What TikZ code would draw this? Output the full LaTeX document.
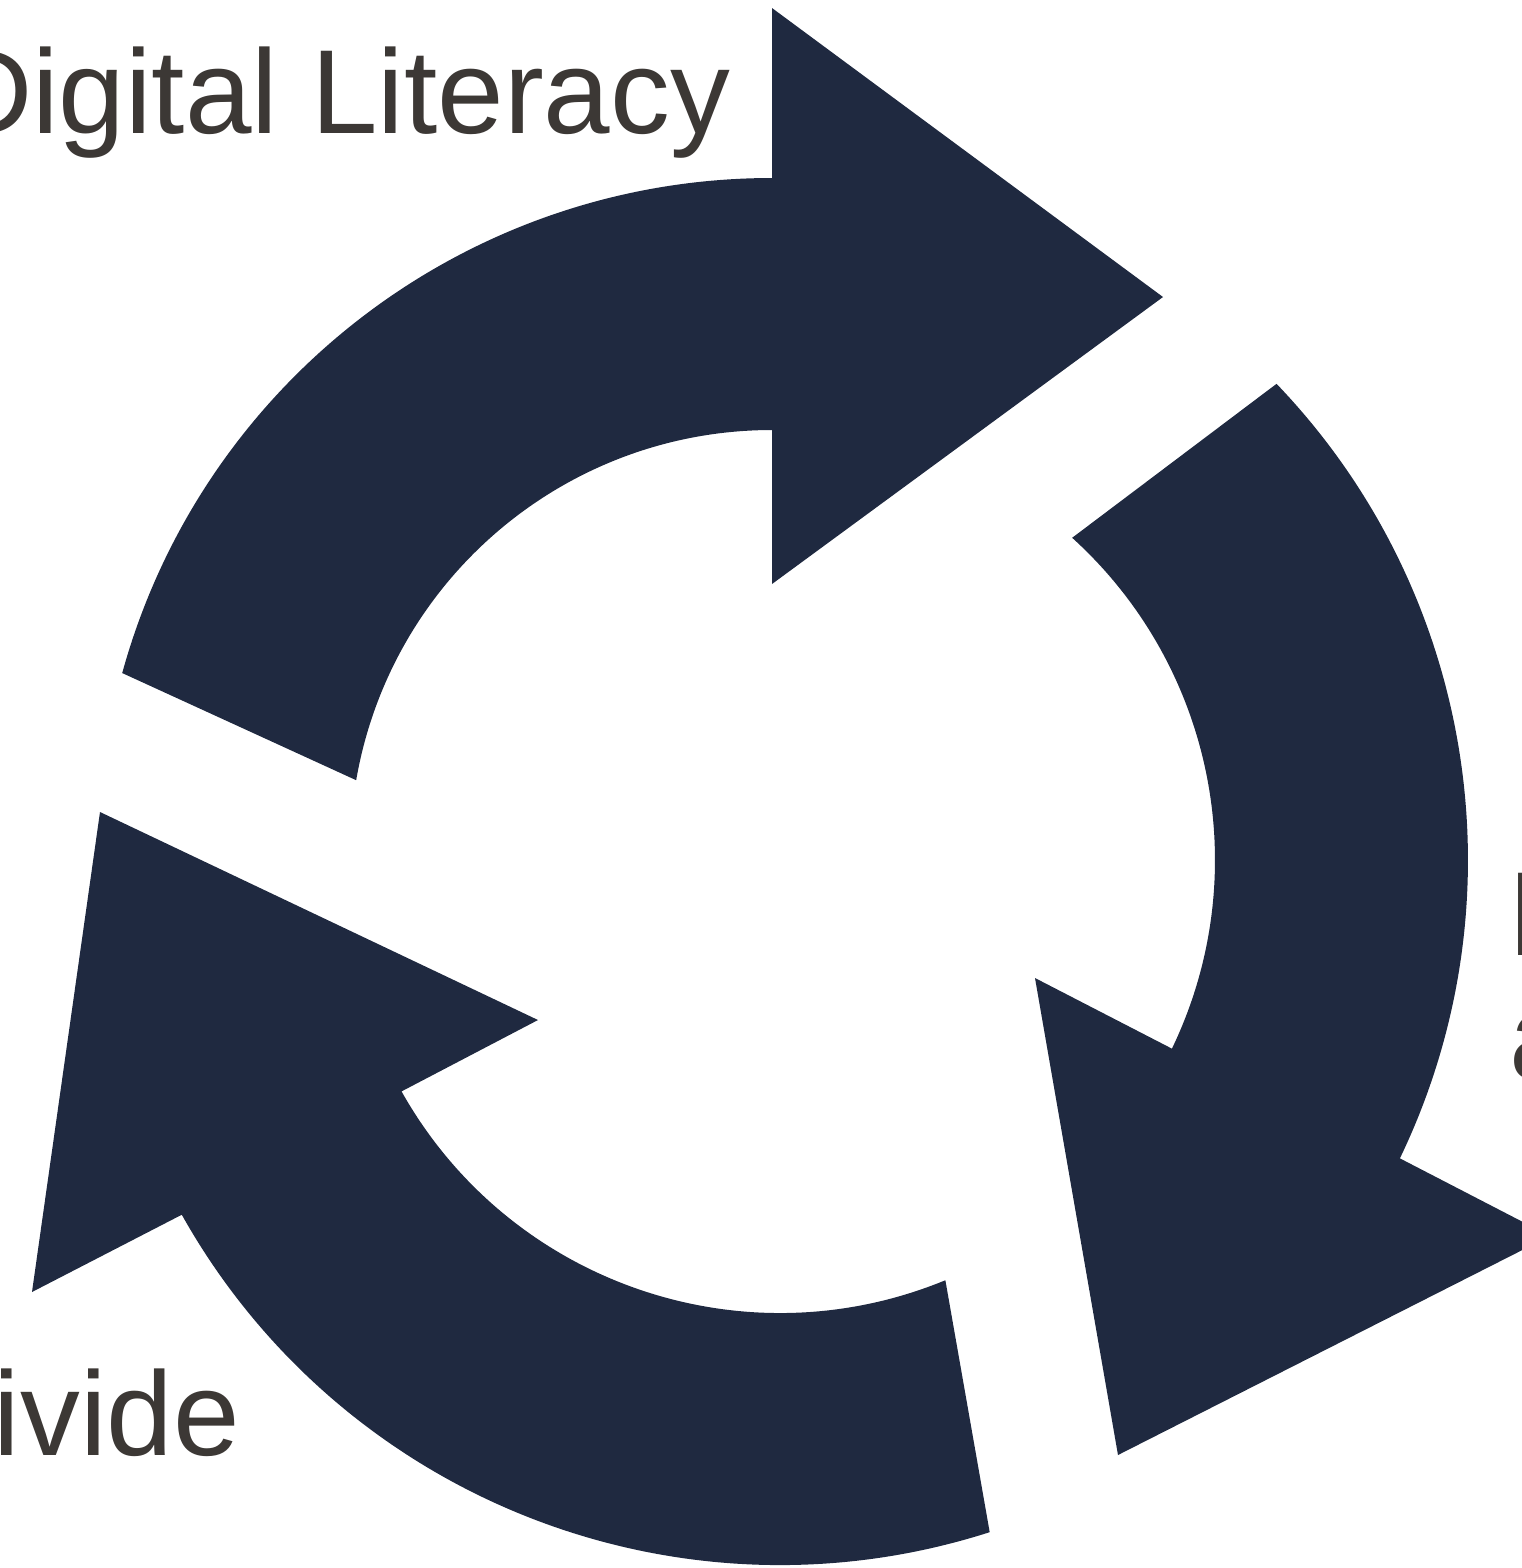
\documentclass[tikz,border=0pt]{standalone}
\usepackage{fontspec}
\setmainfont{Liberation Sans}
\usepackage{xcolor}
\definecolor{navy}{HTML}{1F2940}
\definecolor{textgray}{HTML}{3C3835}

\begin{document}
\begin{tikzpicture}[x=0.01cm,y=0.01cm,
    arrowfill/.style={fill=navy},
    lbl/.style={anchor=base west,inner sep=0pt,outer sep=0pt,text=textgray,
      font=\fontsize{34}{35.3}\selectfont}]
   \clip (0,0) rectangle (1522,-1568);
   \coordinate (ctop) at (772,-852);
   \coordinate (cright) at (780,-860);
   \coordinate (cbot) at (780,-879);
   % top arrow
   \fill[arrowfill] ([shift={(164.6:674)}]ctop) arc[start angle=164.6, end angle=90, radius=674]
     -- (772,-8) -- (1163,-297) -- (772,-584)
     -- ([shift={(90:422)}]ctop) arc[start angle=90, end angle=170.2, radius=422] -- cycle;
   % right arrow
   \fill[arrowfill] ([shift={(43.8:688)}]cright) arc[start angle=43.8, end angle=-25.7, radius=688]
     -- (1550,-1236) -- (1118,-1455) -- (1035,-978)
     -- ([shift={(-25.7:435)}]cright) arc[start angle=-25.7, end angle=47.8, radius=435] -- cycle;
   % bottom arrow
   \fill[arrowfill] ([shift={(-72.2:686)}]cbot) arc[start angle=-72.2, end angle=-150.7, radius=686]
     -- (32,-1292) -- (100,-812) -- (538,-1020)
     -- ([shift={(-150.7:434)}]cbot) arc[start angle=-150.7, end angle=-67.6, radius=434] -- cycle;
   % labels
   \node[lbl] (literacy) at (-54,-133) {Digital Literacy};
   \node[lbl] (divide) at (-6,-1455) {ivide};
   \node[lbl] (rightI) at (1507,-955) {I};
   \node[lbl] (righta) at (1509,-1078) {a};
\end{tikzpicture}
\end{document}
